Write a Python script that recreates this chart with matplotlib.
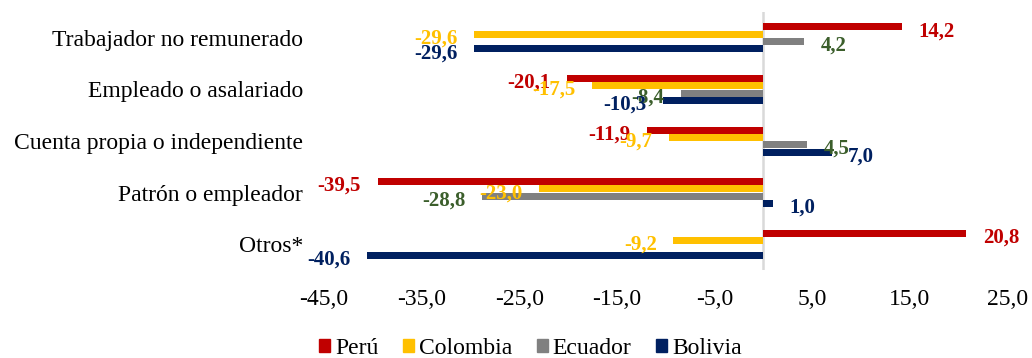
import numpy as np
import matplotlib.pyplot as plt
from matplotlib.patches import Patch

plt.rcParams['font.family'] = ['Liberation Serif', 'DejaVu Serif']

categorias = ['Trabajador no remunerado', 'Empleado o asalariado',
              'Cuenta propia o independiente', 'Patrón o empleador', 'Otros*']
paises = ['Perú', 'Colombia', 'Ecuador', 'Bolivia']

peru = [14.2, -20.1, -11.9, -39.5, 20.8]
colombia = [-29.6, -17.5, -9.7, -23.0, -9.2]
ecuador = [4.2, -8.4, 4.5, -28.8, np.nan]
bolivia = [-29.6, -10.3, 7.0, 1.0, -40.6]

colores = ['#C00000', '#FFC000', '#808080', '#002060']
colores_txt = ['#C00000', '#FFC000', '#3B5E2B', '#002060']

fig = plt.figure(figsize=(10.32, 3.58), dpi=100)
# area del grafico en fracciones de la figura
ax = fig.add_axes([0.314, 0.246, 0.662, 0.72])

y = np.arange(len(categorias))
paso = 0.142
for i, serie in enumerate([peru, colombia, ecuador, bolivia]):
    pos = y + (i - 1.5) * paso
    ax.barh(pos, serie, height=paso * 0.95, color=colores[i], zorder=2)
    for yy, v in zip(pos, serie):
        if np.isnan(v):
            continue
        txt = f'{v:.1f}'.replace('.', ',')
        ax.annotate(txt, xy=(v, yy), xytext=(12 if v > 0 else -12, -3),
                    textcoords='offset points', ha='left' if v > 0 else 'right',
                    va='center', fontsize=15, fontweight='bold',
                    color=colores_txt[i], zorder=3)

ax.axvline(0, color='#D9D9D9', lw=1.8, zorder=1)

ax.set_xlim(-45, 25)
ax.set_ylim(4.5, -0.5)
ticks = np.arange(-45, 26, 10)
ax.set_xticks(ticks)
ax.set_xticklabels([f'{t:.1f}'.replace('.', ',') for t in ticks])
ax.set_yticks(y)
ax.set_yticklabels(categorias)
ax.tick_params(axis='both', length=0, labelsize=17)
ax.tick_params(axis='x', pad=14)
ax.tick_params(axis='y', pad=15)
for s in ax.spines.values():
    s.set_visible(False)

handles = [Patch(color=c) for c in colores]
fig.legend(handles, paises, loc='center', bbox_to_anchor=(0.514, 0.026),
           ncol=4, frameon=False, fontsize=17, handlelength=0.47,
           handleheight=0.47, handletextpad=0.2, columnspacing=1.05,
           borderpad=0, borderaxespad=0)

plt.savefig('out.png', dpi=100)
